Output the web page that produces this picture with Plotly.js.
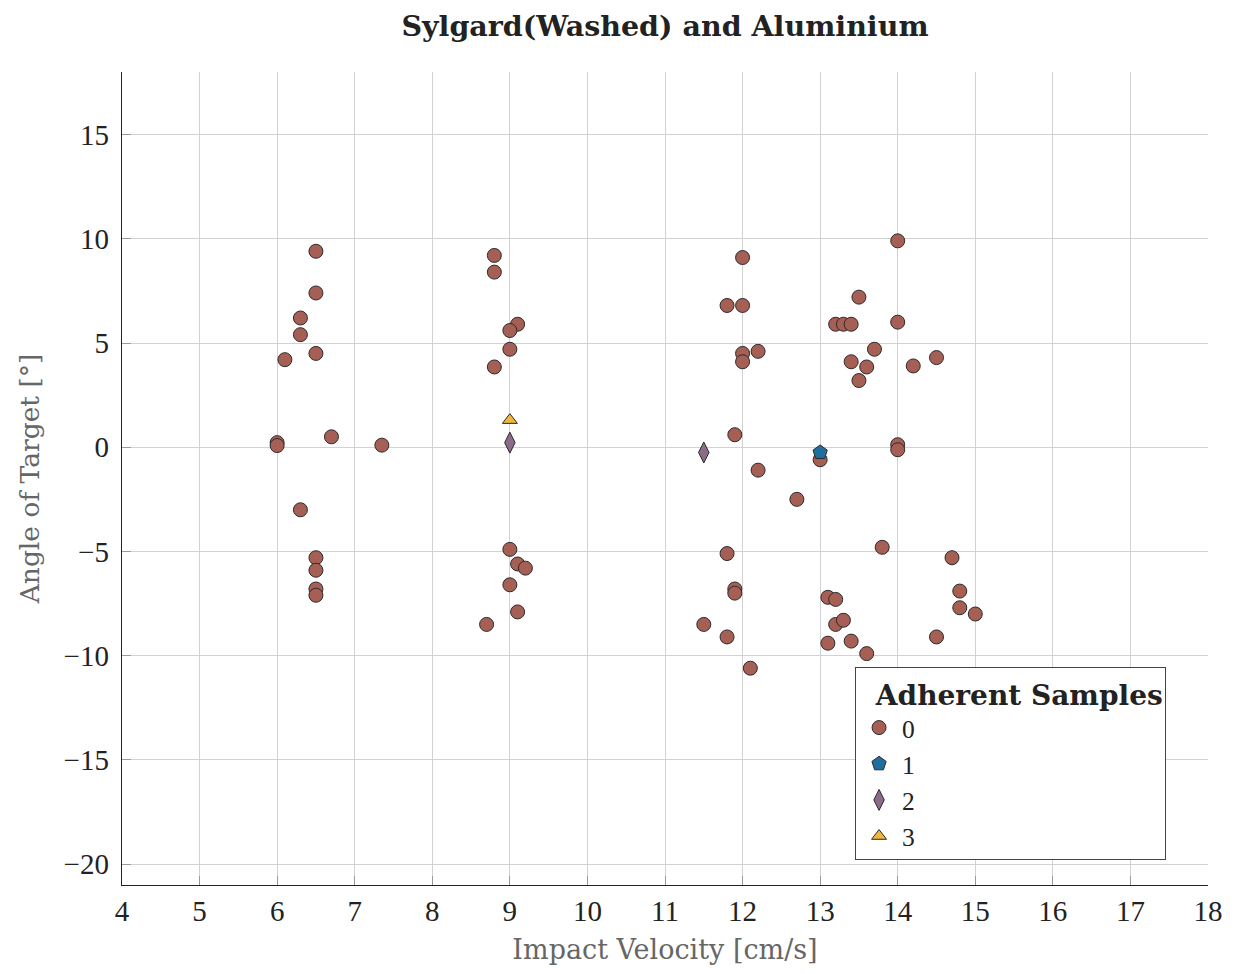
<!DOCTYPE html>
<html>
<head>
<meta charset="utf-8">
<script src="https://cdn.plot.ly/plotly-3.0.1.min.js"></script>
<style>html,body{margin:0;padding:0;background:#fff;}#chart{width:1243px;height:974px;}</style>
</head>
<body>
<div id="chart"></div>
<script>
// Adherent samples = 0
const x0 = [6.5,8.8,8.8,6.5,6.3,6.3,9.1,9.0,9.0,6.5,6.1,8.8,6.0,6.0,6.7,7.35,6.3,9.0,6.5,9.1,9.2,6.5,9.0,6.5,6.5,9.1,8.7,
            14.0,12.0,11.8,12.0,13.5,13.2,13.3,13.4,14.0,12.0,12.2,12.0,13.7,13.4,13.6,14.2,14.5,13.5,11.9,13.0,14.0,14.0,12.2,12.7,11.8,13.8,14.7,11.9,11.9,14.8,13.1,13.2,14.8,15.0,11.5,13.2,13.3,11.8,13.1,13.4,14.5,13.6,12.1];
const y0 = [9.4,9.2,8.4,7.4,6.2,5.4,5.9,5.6,4.7,4.5,4.2,3.85,0.22,0.08,0.5,0.1,-3.0,-4.9,-5.3,-5.6,-5.8,-5.9,-6.6,-6.8,-7.1,-7.9,-8.5,
            9.9,9.1,6.8,6.8,7.2,5.9,5.9,5.9,6.0,4.5,4.6,4.1,4.7,4.1,3.85,3.9,4.3,3.2,0.6,-0.6,0.12,-0.12,-1.1,-2.5,-5.1,-4.8,-5.3,-6.8,-7.0,-6.9,-7.2,-7.3,-7.7,-8.0,-8.5,-8.5,-8.3,-9.1,-9.4,-9.3,-9.1,-9.9,-10.6];
// Adherent samples = 1
const x1 = [13.0];
const y1 = [-0.25];
// Adherent samples = 2
const x2 = [9.0, 11.5];
const y2 = [0.22, -0.25];
// Adherent samples = 3
const x3 = [9.0];
const y3 = [1.3];

const xTicks = [4,5,6,7,8,9,10,11,12,13,14,15,16,17,18];
const yTicks = [-20,-15,-10,-5,0,5,10,15];

const FONT = "'Liberation Serif', 'DejaVu Serif', serif";
const WIDE = "'DejaVu Serif', 'Liberation Serif', serif";
const edge = {color:'#2b2b2b', width:1};

const traces = [
  {x:x0, y:y0, name:'0', mode:'markers', type:'scatter',
   marker:{symbol:'circle', size:14, color:'#a65f55', line:edge}},
  {x:x1, y:y1, name:'1', mode:'markers', type:'scatter',
   marker:{symbol:'pentagon', size:15, color:'#1f6e9f', line:edge}},
  {x:x2, y:y2, name:'2', mode:'markers', type:'scatter',
   marker:{symbol:'diamond-tall', size:15, color:'#8b6b88', line:edge}},
  {x:x3, y:y3, name:'3', mode:'markers', type:'scatter',
   marker:{symbol:'triangle-up', size:13, color:'#f0b63a', line:edge}}
];

const layout = {
  width:1243, height:974,
  margin:{l:122, r:35, t:72, b:89},
  paper_bgcolor:'#fff', plot_bgcolor:'#fff',
  font:{family:FONT, size:28, color:'#222'},
  title:{text:'<b>Sylgard(Washed) and Aluminium</b>', x:0.535, xanchor:'center', y:0.973, yanchor:'middle',
         font:{family:WIDE, size:28.5, color:'#222'}},
  xaxis:{range:[4,18], tickvals:xTicks, ticktext:xTicks.map(String),
         showgrid:true, gridcolor:'#d2d2d2', gridwidth:1, zeroline:false,
         showline:true, linecolor:'#222', linewidth:1.3,
         ticks:'inside', ticklen:9, tickcolor:'#999', tickwidth:1,
         tickfont:{family:FONT, size:29, color:'#222'},
         title:{text:'Impact Velocity [cm/s]', font:{family:WIDE, size:27, color:'#666'}, standoff:14}},
  yaxis:{range:[-21,18], tickvals:yTicks, ticktext:yTicks.map(v=>v<0?'\u2212'+Math.abs(v):String(v)),
         showgrid:true, gridcolor:'#d2d2d2', gridwidth:1, zeroline:false,
         showline:true, linecolor:'#222', linewidth:1.3,
         ticks:'inside', ticklen:9, tickcolor:'#999', tickwidth:1, ticklabelstandoff:6,
         tickfont:{family:FONT, size:29, color:'#222'},
         title:{text:'Angle of Target [°]', font:{family:WIDE, size:26.5, color:'#666'}, standoff:16}},
  showlegend:true,
  legend:{x:0.675, y:0.268, xanchor:'left', yanchor:'top',
          bgcolor:'#fff', bordercolor:'#444', borderwidth:1,
          font:{family:FONT, size:25.5, color:'#222'},
          title:{text:'\u00a0\u00a0<b>Adherent Samples</b>', font:{family:WIDE, size:28, color:'#222'}},
          itemwidth:36, tracegroupgap:0}
};

Plotly.newPlot('chart', traces, layout, {displayModeBar:false, staticPlot:true});
</script>
</body>
</html>
